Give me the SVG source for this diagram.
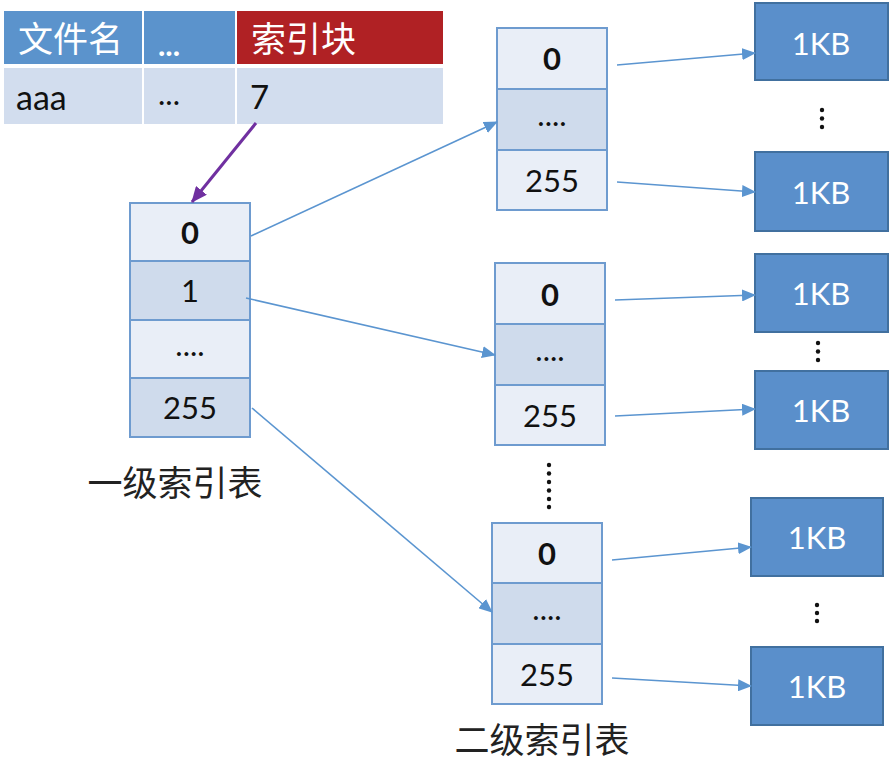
<svg xmlns="http://www.w3.org/2000/svg" width="892" height="764" viewBox="0 0 892 764">
<style>
.t{font-family:"Lato","Liberation Sans",sans-serif;font-size:31px;fill:#111;text-anchor:middle;dominant-baseline:central}
.b{font-weight:bold}
.w{fill:#fff}
.cj{font-family:"Noto Sans CJK SC",sans-serif;font-size:32px;fill:#222}
.lt{fill:#E9EEF7;stroke:#6E9BCF;stroke-width:2}
.dk{fill:#CFDBEC;stroke:#6E9BCF;stroke-width:2}
.kb{fill:#5A8FCB;stroke:#41709F;stroke-width:2}
.ln{stroke:#5B95D0;stroke-width:1.6;fill:none}
.dot{fill:#111}
</style>
<defs>
<marker id="ah" markerUnits="userSpaceOnUse" markerWidth="14" markerHeight="12" refX="13" refY="6" orient="auto"><path d="M0,0L14,6L0,12Z" fill="#5B95D0"/></marker>
<marker id="ap" markerUnits="userSpaceOnUse" markerWidth="16" markerHeight="14" refX="15" refY="7" orient="auto"><path d="M0,0L16,7L0,14Z" fill="#7030A0"/></marker>
</defs>
<rect width="892" height="764" fill="#fff"/>

<g id="fileTable">
<rect x="4" y="11" width="138" height="53" fill="#5B93CC"/>
<rect x="144" y="11" width="91" height="53" fill="#5B93CC"/>
<rect x="237" y="11" width="206" height="53" fill="#B02124"/>
<rect x="4" y="68" width="138" height="56" fill="#D2DDEE"/>
<rect x="144" y="68" width="91" height="56" fill="#D2DDEE"/>
<rect x="237" y="68" width="206" height="56" fill="#D2DDEE"/>
<text x="18" y="52" class="cj" style="fill:#fff;font-size:35px">文件名</text>
<text x="158" y="44" class="t w b" style="text-anchor:start">...</text>
<text x="251" y="52" class="cj" style="fill:#fff;font-size:35px">索引块</text>
<text x="16" y="96" class="t" style="text-anchor:start;font-size:34px">aaa</text>
<text x="158" y="93" class="t" style="text-anchor:start">...</text>
<text x="250" y="96" class="t" style="text-anchor:start;font-size:33px">7</text>
</g>

<g id="level1">
<rect x="130" y="203" width="120" height="58" class="lt"/>
<rect x="130" y="261" width="120" height="59" class="dk"/>
<rect x="130" y="320" width="120" height="58" class="lt"/>
<rect x="130" y="378" width="120" height="59" class="dk"/>
<text x="190" y="232" class="t b">0</text>
<text x="190" y="290" class="t">1</text>
<text x="190" y="344" class="t">....</text>
<text x="190" y="407" class="t">255</text>
<text x="175" y="496" class="cj" style="text-anchor:middle;font-size:35px">一级索引表</text>
</g>

<g id="level2a">
<rect x="497" y="28" width="110" height="61" class="lt"/>
<rect x="497" y="89" width="110" height="61" class="dk"/>
<rect x="497" y="150" width="110" height="60" class="lt"/>
<text x="552" y="58" class="t b">0</text>
<text x="552" y="114" class="t">....</text>
<text x="552" y="180" class="t">255</text>
</g>

<g id="level2b">
<rect x="495" y="263" width="110" height="61" class="lt"/>
<rect x="495" y="324" width="110" height="61" class="dk"/>
<rect x="495" y="385" width="110" height="60" class="lt"/>
<text x="550" y="294" class="t b">0</text>
<text x="550" y="349" class="t">....</text>
<text x="550" y="415" class="t">255</text>
</g>

<g id="level2c">
<rect x="492" y="523" width="110" height="60" class="lt"/>
<rect x="492" y="583" width="110" height="61" class="dk"/>
<rect x="492" y="644" width="110" height="60" class="lt"/>
<text x="547" y="553" class="t b">0</text>
<text x="547" y="608" class="t">....</text>
<text x="547" y="674" class="t">255</text>
<text x="542" y="753" class="cj" style="text-anchor:middle;font-size:35px">二级索引表</text>
</g>

<g id="midDots">
<circle cx="549" cy="465" r="2.2" class="dot"/>
<circle cx="549" cy="473.5" r="2.2" class="dot"/>
<circle cx="549" cy="482" r="2.2" class="dot"/>
<circle cx="549" cy="490.5" r="2.2" class="dot"/>
<circle cx="549" cy="499" r="2.2" class="dot"/>
<circle cx="549" cy="507" r="2.2" class="dot"/>
</g>

<g id="blocks">
<g id="kb1"><rect x="755" y="3" width="133" height="77" class="kb"/><text x="821" y="43" class="t w">1KB</text></g>
<g id="kb2"><rect x="755" y="152" width="133" height="79" class="kb"/><text x="821" y="192" class="t w">1KB</text></g>
<g id="kb3"><rect x="755" y="254" width="133" height="78" class="kb"/><text x="821" y="293" class="t w">1KB</text></g>
<g id="kb4"><rect x="755" y="371" width="133" height="78" class="kb"/><text x="821" y="410" class="t w">1KB</text></g>
<g id="kb5"><rect x="751" y="498" width="132" height="78" class="kb"/><text x="817" y="537" class="t w">1KB</text></g>
<g id="kb6"><rect x="751" y="647" width="132" height="78" class="kb"/><text x="817" y="686" class="t w">1KB</text></g>
<circle cx="822" cy="110" r="2.2" class="dot"/><circle cx="822" cy="118.5" r="2.2" class="dot"/><circle cx="822" cy="127" r="2.2" class="dot"/>
<circle cx="818" cy="343" r="2.2" class="dot"/><circle cx="818" cy="351.5" r="2.2" class="dot"/><circle cx="818" cy="360" r="2.2" class="dot"/>
<circle cx="817" cy="605" r="2.2" class="dot"/><circle cx="817" cy="613" r="2.2" class="dot"/><circle cx="817" cy="621" r="2.2" class="dot"/>
</g>

<g id="connectors">
<line x1="256" y1="123" x2="192" y2="202" stroke="#7030A0" stroke-width="3" marker-end="url(#ap)"/>
<line x1="251" y1="236" x2="497" y2="122" class="ln" marker-end="url(#ah)"/>
<line x1="246" y1="298" x2="495" y2="355" class="ln" marker-end="url(#ah)"/>
<line x1="252" y1="408" x2="492" y2="612" class="ln" marker-end="url(#ah)"/>
<line x1="617" y1="65" x2="755" y2="53" class="ln" marker-end="url(#ah)"/>
<line x1="617" y1="182" x2="755" y2="192" class="ln" marker-end="url(#ah)"/>
<line x1="615" y1="300" x2="755" y2="295" class="ln" marker-end="url(#ah)"/>
<line x1="615" y1="416" x2="755" y2="409" class="ln" marker-end="url(#ah)"/>
<line x1="612" y1="560" x2="751" y2="547" class="ln" marker-end="url(#ah)"/>
<line x1="612" y1="678" x2="751" y2="686" class="ln" marker-end="url(#ah)"/>
</g>
</svg>
